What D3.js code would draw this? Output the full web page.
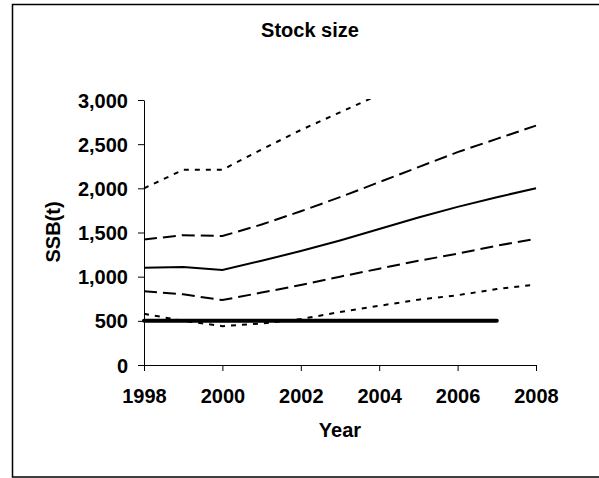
<!DOCTYPE html>
<html>
<head>
<meta charset="utf-8">
<script src="https://cdn.jsdelivr.net/npm/d3@7"></script>
<style>
  html, body { margin: 0; padding: 0; background: #fff; }
  svg { display: block; }
  text { font-family: "Liberation Sans", Arial, sans-serif; font-weight: bold; fill: #000; }
</style>
</head>
<body>
<svg id="chart" width="599" height="478"></svg>
<script>
// ---- data ----
const years      = [1998, 1999, 2000, 2001, 2002, 2003, 2004, 2005, 2006, 2007, 2008];
const upper95    = [2000, 2210, 2210, 2440, 2660, 2860, 3060, 3260, 3460, 3650, 3850];
const upper80    = [1420, 1470, 1460, 1590, 1740, 1900, 2070, 2240, 2410, 2560, 2710];
const median     = [1100, 1110, 1075, 1180, 1290, 1410, 1540, 1670, 1790, 1900, 2000];
const lower80    = [835, 800, 735, 820, 905, 1000, 1090, 1180, 1260, 1350, 1430];
const lower95    = [580, 500, 440, 470, 520, 600, 670, 740, 790, 860, 910];
const bpaYears   = [1998, 2007];
const bpaValues  = [500, 500];
const xTicks     = [1998, 2000, 2002, 2004, 2006, 2008];
const yTicks     = [0, 500, 1000, 1500, 2000, 2500, 3000];
const titleText  = "Stock size";
const xLabel     = "Year";
const yLabel     = "SSB(t)";

// ---- layout ----
const svg = d3.select("#chart");
const x = d3.scaleLinear().domain([1998, 2008]).range([144, 536]);
const y = d3.scaleLinear().domain([0, 3000]).range([365, 100]);

// outer frame
svg.append("rect")
  .attr("x", 12.5).attr("y", 4.5)
  .attr("width", 620).attr("height", 472.5)
  .attr("fill", "#fff").attr("stroke", "#000").attr("stroke-width", 1.5);

svg.append("defs").append("clipPath").attr("id", "plotclip")
  .append("rect").attr("x", 140).attr("y", 99).attr("width", 400).attr("height", 270);

// axes
const xAxis = d3.axisBottom(x).tickValues(xTicks).tickFormat(d3.format("d")).tickSize(6).tickSizeOuter(0);
const yAxis = d3.axisLeft(y).tickValues(yTicks).tickFormat(d3.format(",")).tickSize(6).tickSizeOuter(0);

const gx = svg.append("g").attr("transform", "translate(0,365)").call(xAxis);
const gy = svg.append("g").attr("transform", "translate(144,0)").call(yAxis);
[gx, gy].forEach(g => {
  g.select(".domain").attr("stroke", "#000").attr("stroke-width", 1);
  g.selectAll(".tick line").attr("stroke", "#000").attr("stroke-width", 1);
  g.selectAll("text").attr("fill", "#000")
    .style("font-family", '"Liberation Sans", Arial, sans-serif')
    .style("font-weight", "bold").style("font-size", "20px");
});
gx.selectAll(".tick text").attr("dy", null).attr("y", 38);
gy.selectAll(".tick text").attr("x", -16).attr("dy", "0.35em");

// lines
const line = d3.line().x((d, i) => x(years[i])).y(d => y(d));
const plot = svg.append("g").attr("clip-path", "url(#plotclip)");

const series = [
  { v: upper95, dash: "5,6",  w: 2 },
  { v: upper80, dash: "13,6", w: 2 },
  { v: median,  dash: null,   w: 2 },
  { v: lower80, dash: "13,6", w: 2 },
  { v: lower95, dash: "5,6",  w: 2 }
];
series.forEach(s => {
  plot.append("path")
    .attr("d", line(s.v))
    .attr("fill", "none")
    .attr("stroke", "#000")
    .attr("stroke-width", s.w)
    .attr("stroke-dasharray", s.dash);
});

const bpaLine = d3.line().x((d, i) => x(bpaYears[i])).y(d => y(d));
plot.append("path")
  .attr("d", bpaLine(bpaValues))
  .attr("fill", "none").attr("stroke", "#000")
  .attr("stroke-width", 4).attr("stroke-linecap", "round");

// titles
svg.append("text").attr("x", 310).attr("y", 37).attr("text-anchor", "middle")
  .style("font-size", "20px").text(titleText);
svg.append("text").attr("x", 340).attr("y", 437).attr("text-anchor", "middle")
  .style("font-size", "20px").text(xLabel);
svg.append("text").attr("transform", "translate(60,232) rotate(-90)")
  .attr("text-anchor", "middle").style("font-size", "20px").text(yLabel);
</script>
</body>
</html>
